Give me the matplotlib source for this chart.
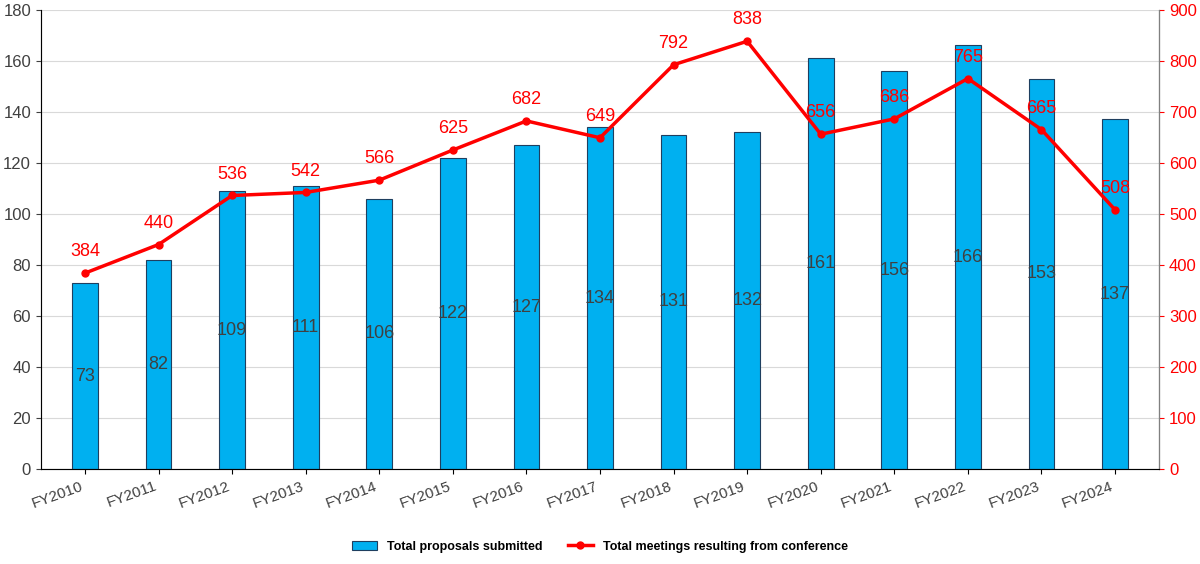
import matplotlib
matplotlib.use("Agg")
import matplotlib.pyplot as plt
import numpy as np

plt.rcParams["font.family"] = "Liberation Sans"

years = ["FY2010","FY2011","FY2012","FY2013","FY2014","FY2015","FY2016","FY2017",
         "FY2018","FY2019","FY2020","FY2021","FY2022","FY2023","FY2024"]
proposals = [73,82,109,111,106,122,127,134,131,132,161,156,166,153,137]
meetings = [384,440,536,542,566,625,682,649,792,838,656,686,765,665,508]

fig = plt.figure(figsize=(12,5.64), dpi=100)
ax = fig.add_axes([0.034, 0.168, 0.932, 0.815])
x = np.arange(len(years))
bars = ax.bar(x, proposals, width=0.35, color="#00B0F0", edgecolor="#1F3F5F", linewidth=0.8,
              label="Total proposals submitted", zorder=2)
for xi, v in zip(x, proposals):
    ax.text(xi, v/2, str(v), ha="center", va="center", fontsize=13, color="#404040", zorder=3)
ax.set_ylim(0,180)
ax.set_yticks(range(0,181,20))
ax.set_xlim(-0.6, len(years)-0.4)
ax.set_xticks(x)
ax.set_xticklabels(years, rotation=20, ha="right", fontsize=11, color="#404040")
ax.tick_params(axis="y", labelsize=12, colors="#404040")
ax.grid(axis="y", color="#D9D9D9", linewidth=0.8, zorder=0)
ax.set_axisbelow(True)
ax.spines["top"].set_visible(False)
ax.spines["left"].set_color("#808080")
ax.spines["bottom"].set_color("#808080")

ax2 = ax.twinx()
line, = ax2.plot(x, meetings, color="#FF0000", linewidth=2.5, marker="o", markersize=5,
                 label="Total meetings resulting from conference", zorder=4)
for xi, v in zip(x, meetings):
    ax2.text(xi, v+25, str(v), ha="center", va="bottom", fontsize=13, color="#FF0000")
ax2.set_ylim(0,900)
ax2.set_yticks(range(0,901,100))
ax2.tick_params(axis="y", labelsize=12, colors="#FF0000")
ax2.spines["top"].set_visible(False)
ax2.spines["right"].set_color("#808080")

fig.legend(handles=[bars, line], loc="lower center", bbox_to_anchor=(0.5, 0.0), ncol=2,
           frameon=False, prop={"size":9, "weight":"bold"})
fig.savefig("out.png", dpi=100)
